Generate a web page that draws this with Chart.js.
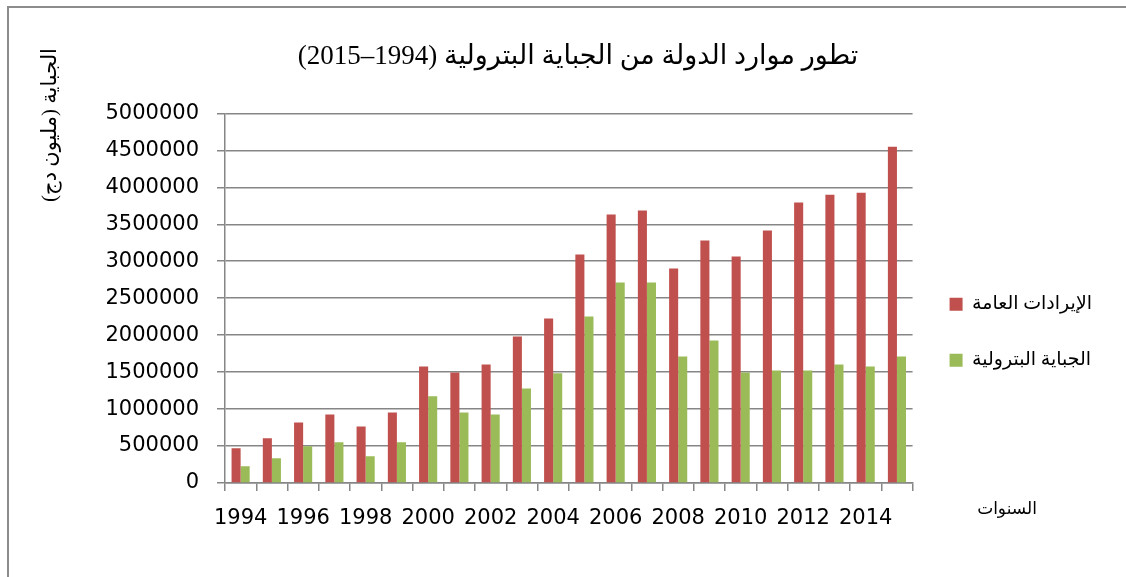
<!DOCTYPE html>
<html lang="ar">
<head>
    <meta charset="UTF-8">
    <title>تطور موارد الدولة من الجباية البترولية</title>
    <script src="https://cdn.jsdelivr.net/npm/chart.js"></script>
    <style>
        html, body { margin: 0; padding: 0; background: #fff; }
        canvas { display: block; }
    </style>
</head>
<body>
    <canvas id="chart" width="1126" height="577" dir="rtl"></canvas>

    <script>
// البيانات (مليون دج)
const years = ["1994", "1995", "1996", "1997", "1998", "1999", "2000", "2001", "2002", "2003", "2004",
               "2005", "2006", "2007", "2008", "2009", "2010", "2011", "2012", "2013", "2014", "2015"];
const totalRevenue = [470000, 604000, 820000, 928000, 766000, 955000, 1577000, 1496000, 1604000, 1982000, 2226000,
                      3090000, 3631000, 3685000, 2901000, 3280000, 3064000, 3415000, 3793000, 3901000, 3928000, 4550000];
const oilTax = [226000, 334000, 496000, 550000, 361000, 550000, 1172000, 955000, 928000, 1280000, 1485000,
                2253000, 2712000, 2712000, 1712000, 1928000, 1496000, 1523000, 1523000, 1604000, 1577000, 1712000];
const yTicks = { min: 0, max: 5000000, step: 500000 };

const chartTitle = "تطور موارد الدولة من الجباية البترولية (1994–2015)";
const revenueLabel = "الإيرادات العامة";
const oilTaxLabel = "الجباية البترولية";
const yTitle = "الجباية (مليون دج)";
const xTitle = "السنوات";

const serif = "'Liberation Serif', 'DejaVu Sans', serif";
const sans = "'DejaVu Sans', sans-serif";
const gridColor = "#868686";

// الإطار وعناوين المحاور
const extras = {
    id: "extras",
    afterDraw(chart) {
        const ctx = chart.ctx;
        ctx.save();
        ctx.strokeStyle = "#8c8c8c";
        ctx.lineWidth = 2;
        ctx.beginPath();
        ctx.moveTo(8, 577);
        ctx.lineTo(8, 7);
        ctx.lineTo(1126, 7);
        ctx.stroke();

        ctx.fillStyle = "#000";
        ctx.direction = "rtl";
        ctx.textAlign = "center";
        ctx.textBaseline = "middle";
        ctx.font = "17px " + serif;
        ctx.fillText(xTitle, 1007, 510);

        ctx.font = "21px " + serif;
        ctx.translate(50, 125);
        ctx.rotate(-Math.PI / 2);
        ctx.fillText(yTitle, 0, 0);
        ctx.restore();
    }
};

new Chart(document.getElementById("chart"), {
    type: "bar",
    data: {
        labels: years,
        datasets: [
            { label: revenueLabel, data: totalRevenue, backgroundColor: "#C0504D" },
            { label: oilTaxLabel, data: oilTax, backgroundColor: "#9BBB59" }
        ]
    },
    options: {
        responsive: false,
        animation: false,
        layout: { padding: { left: 54, right: 24, top: 0, bottom: 0 } },
        datasets: { bar: { categoryPercentage: 0.58, barPercentage: 1 } },
        plugins: {
            title: {
                display: true,
                text: chartTitle,
                color: "#000",
                font: { family: serif, size: 27, weight: "normal" },
                padding: { top: 41, bottom: 40 }
            },
            legend: {
                position: "right",
                title: { display: true, text: "", padding: { top: 73, bottom: 0 } },
                labels: {
                    boxWidth: 13,
                    boxHeight: 13,
                    padding: 37,
                    color: "#000",
                    font: { family: serif, size: 19 }
                }
            },
            tooltip: { enabled: false }
        },
        scales: {
            x: {
                grid: { drawOnChartArea: false, color: gridColor, lineWidth: 1.5, tickLength: 8 },
                border: { color: gridColor, width: 1.5 },
                ticks: {
                    autoSkip: false,
                    maxRotation: 0,
                    color: "#000",
                    padding: 15,
                    font: { family: sans, size: 21 },
                    callback: function (v, i) { return i % 2 === 0 ? this.getLabelForValue(v) : ""; }
                },
                afterFit: s => { s.height = 94; }
            },
            y: {
                min: yTicks.min,
                max: yTicks.max,
                grid: { color: gridColor, lineWidth: 1.5, tickLength: 8 },
                border: { color: gridColor, width: 1.5 },
                ticks: {
                    stepSize: yTicks.step,
                    color: "#000",
                    padding: 18,
                    font: { family: sans, size: 21 },
                    callback: v => String(v)
                },
                afterFit: s => { s.width = 171; }
            }
        }
    },
    plugins: [extras]
});
    </script>
</body>
</html>
